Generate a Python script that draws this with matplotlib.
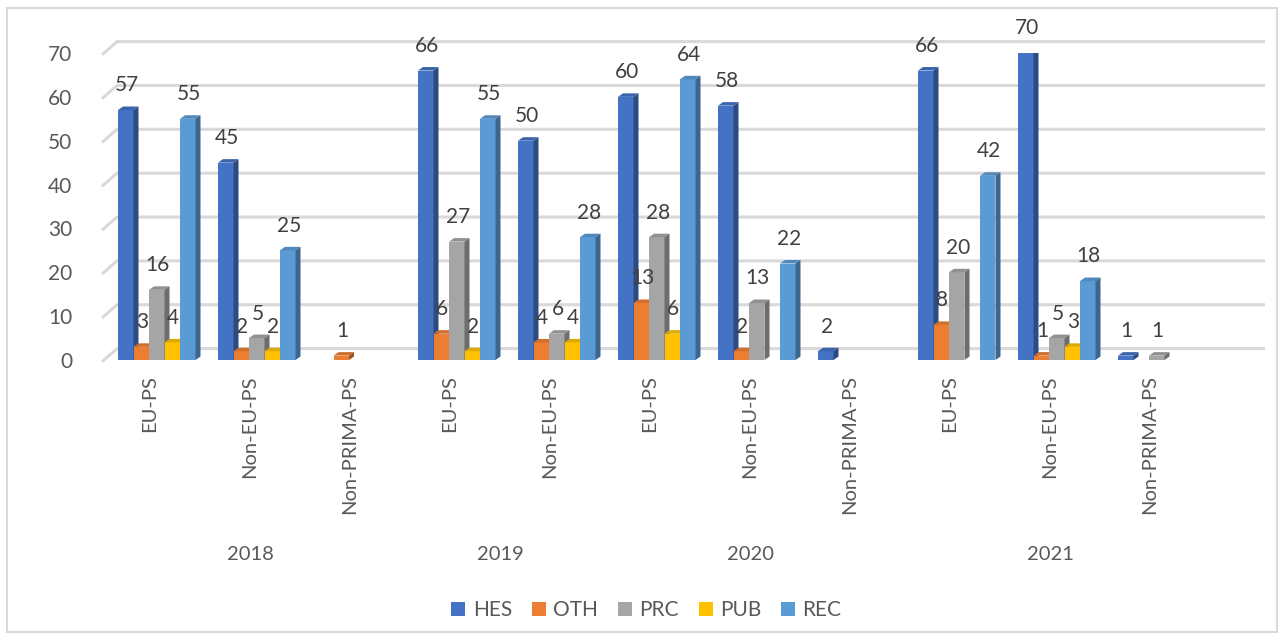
import numpy as np
import matplotlib
matplotlib.use("Agg")
import matplotlib.pyplot as plt
from matplotlib.patches import Polygon, Rectangle, Patch
from matplotlib import colors as mcolors

plt.rcParams['font.family'] = ['Lato', 'DejaVu Sans']

years = ["2018", "2019", "2020", "2021"]
year_cats = [["EU-PS", "Non-EU-PS", "Non-PRIMA-PS"],
             ["EU-PS", "Non-EU-PS"],
             ["EU-PS", "Non-EU-PS", "Non-PRIMA-PS"],
             ["EU-PS", "Non-EU-PS", "Non-PRIMA-PS"]]
series = ["HES", "OTH", "PRC", "PUB", "REC"]
nan = np.nan
HES = [57, 45, nan, 66, 50, 60, 58, 2, 66, 70, 1]
OTH = [3, 2, 1, 6, 4, 13, 2, nan, 8, 1, nan]
PRC = [16, 5, nan, 27, 6, 28, 13, nan, 20, 5, 1]
PUB = [4, 2, nan, 2, 4, 6, nan, nan, nan, 3, nan]
REC = [55, 25, nan, 55, 28, 64, 22, nan, 42, 18, nan]
values = [HES, OTH, PRC, PUB, REC]
colors = ["#4472C4", "#ED7D31", "#A5A5A5", "#FFC000", "#5B9BD5"]

cat_labels = [c for grp in year_cats for c in grp]
ncat = len(cat_labels)
xs = np.arange(ncat)

fig = plt.figure(figsize=(12.8, 6.4), dpi=100)
fig.patches.append(Rectangle((7/1280, 8/640), 1270/1280, 624/640, transform=fig.transFigure,
                             fill=False, edgecolor="#d9d9d9", lw=1.5))
ax = fig.add_axes([100/1280, 1 - 360/640, 1100/1280, 307/640])
ax.set_xlim(-0.5, ncat - 0.5)
ax.set_ylim(0, 70)
for s in ax.spines.values():
    s.set_visible(False)
ax.set_xticks([])
ax.set_yticks(range(0, 80, 10))
ax.tick_params(axis='y', length=0, pad=20, labelsize=15, labelcolor="#595959")

# back-wall gridlines
for v in range(0, 80, 10):
    ax.plot([-0.48, -0.33, ncat + 0.15], [v - 0.4, v + 2.6, v + 2.6], color="#d9d9d9",
            lw=2.2, clip_on=False, zorder=0, solid_capstyle='butt')

bw = 0.155
dx = 0.05
dy = 0.8

def shade(c, f):
    r, g, b = mcolors.to_rgb(c)
    return (r * f, g * f, b * f)

z = 2
for ci in range(ncat):
    for si, (vals, col) in enumerate(zip(values, colors)):
        v = vals[ci]
        if np.isnan(v):
            continue
        x0 = xs[ci] - 0.32 + si * bw
        x1 = x0 + bw
        ax.bar(x0, v, width=bw, align='edge', color=col, zorder=z, lw=0)
        ax.add_patch(Polygon([(x0, v), (x0 + dx, v + dy), (x1 + dx, v + dy), (x1, v)],
                             closed=True, facecolor=shade(col, 0.88), lw=0, zorder=z))
        ax.add_patch(Polygon([(x1, 0), (x1, v), (x1 + dx, v + dy), (x1 + dx, dy)],
                             closed=True, facecolor=shade(col, 0.66), lw=0, zorder=z))
        z += 1
        ax.text((x0 + x1) / 2 + 0.01, v + 5.6, f"{int(v)}", ha='center', va='center',
                fontsize=15, color="#404040", zorder=200, clip_on=False)

# category labels
for ci, lab in enumerate(cat_labels):
    ax.annotate(lab, xy=(xs[ci], 0), xytext=(0, -11), textcoords='offset points',
                rotation=90, ha='center', va='top', fontsize=14.5, color="#595959",
                annotation_clip=False)

# year labels
start = 0
for yr, grp in zip(years, year_cats):
    center = start + (len(grp) - 1) / 2
    ax.annotate(yr, xy=(center, 0), xytext=(0, -140), textcoords='offset points',
                ha='center', va='center', fontsize=14.5, color="#595959",
                annotation_clip=False)
    start += len(grp)

handles = [Patch(facecolor=c, edgecolor='none') for c in colors]
fig.legend(handles, series, loc='center', bbox_to_anchor=(0.505, 1 - 610/640), ncol=5,
           frameon=False, fontsize=15, handlelength=0.68, handleheight=0.68,
           handletextpad=0.35, columnspacing=0.95, labelcolor="#595959")

fig.savefig("out.png", dpi=100)
